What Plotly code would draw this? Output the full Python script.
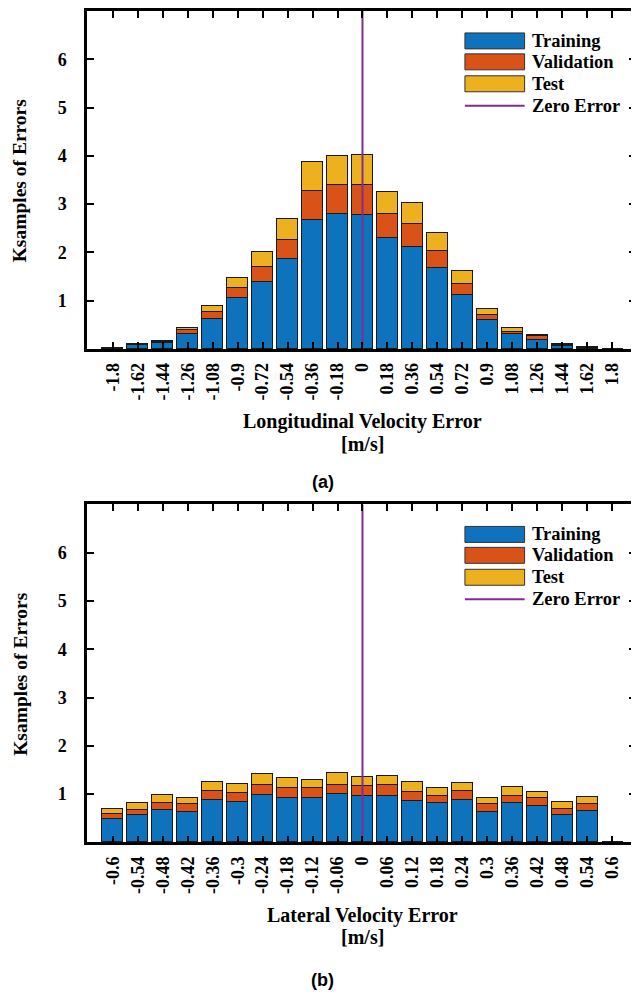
import plotly.graph_objects as go

# ---------------- data ----------------
lon_labels = ["-1.8", "-1.62", "-1.44", "-1.26", "-1.08", "-0.9", "-0.72", "-0.54", "-0.36", "-0.18",
              "0", "0.18", "0.36", "0.54", "0.72", "0.9", "1.08", "1.26", "1.44", "1.62", "1.8"]
lon_centers = [-1.8, -1.62, -1.44, -1.26, -1.08, -0.9, -0.72, -0.54, -0.36, -0.18,
               0.0, 0.18, 0.36, 0.54, 0.72, 0.9, 1.08, 1.26, 1.44, 1.62, 1.8]
lon_train = [0.02, 0.09, 0.12, 0.32, 0.62, 1.05, 1.39, 1.86, 2.68, 2.80,
             2.78, 2.30, 2.12, 1.68, 1.11, 0.59, 0.31, 0.19, 0.06, 0.03, 0.0]
lon_val = [0.005, 0.01, 0.03, 0.07, 0.15, 0.22, 0.31, 0.39, 0.60, 0.59,
           0.61, 0.50, 0.46, 0.35, 0.24, 0.11, 0.05, 0.08, 0.03, 0.01, 0.0]
lon_test = [0.005, 0.01, 0.02, 0.05, 0.13, 0.21, 0.31, 0.44, 0.59, 0.61,
            0.62, 0.46, 0.44, 0.38, 0.27, 0.13, 0.08, 0.02, 0.02, 0.01, 0.0]

lat_labels = ["-0.6", "-0.54", "-0.48", "-0.42", "-0.36", "-0.3", "-0.24", "-0.18", "-0.12", "-0.06",
              "0", "0.06", "0.12", "0.18", "0.24", "0.3", "0.36", "0.42", "0.48", "0.54", "0.6"]
lat_centers = [-0.6, -0.54, -0.48, -0.42, -0.36, -0.3, -0.24, -0.18, -0.12, -0.06,
               0.0, 0.06, 0.12, 0.18, 0.24, 0.3, 0.36, 0.42, 0.48, 0.54, 0.6]
lat_train = [0.47, 0.55, 0.67, 0.63, 0.86, 0.83, 0.98, 0.91, 0.92, 1.00,
             0.96, 0.96, 0.85, 0.80, 0.86, 0.63, 0.81, 0.74, 0.56, 0.65, 0.0]
lat_val = [0.115, 0.12, 0.14, 0.15, 0.20, 0.19, 0.19, 0.20, 0.19, 0.19,
           0.20, 0.22, 0.19, 0.16, 0.19, 0.16, 0.15, 0.17, 0.13, 0.14, 0.0]
lat_test = [0.10, 0.13, 0.17, 0.14, 0.18, 0.18, 0.23, 0.21, 0.18, 0.23,
            0.19, 0.19, 0.20, 0.15, 0.17, 0.13, 0.17, 0.13, 0.14, 0.15, 0.0]

y_ticks = [1, 2, 3, 4, 5, 6]
series_names = ["Training", "Validation", "Test"]
series_colors = ["#0E72BD", "#D95319", "#EDB120"]
zero_color = "#7E2F8E"

# ---------------- layout helpers ----------------
OFF = 8                # default page body margin
W, H = 639 - OFF, 994 - OFF
L = 87 - OFF
PW = W - L


def px_x(p):
    """window pixel x -> paper x"""
    return (p - OFF - L) / PW


def px_y(p):
    """window pixel y -> paper y"""
    return (H - (p - OFF)) / H


SERIF = "Liberation Serif"
fig = go.Figure()

panels = [
    dict(xa="x", ya="y", centers=lon_centers, labels=lon_labels,
         data=[lon_train, lon_val, lon_test], step=0.18, top=8, bottom=347,
         title="Longitudinal Velocity Error", cap="(a)", cap_y=480),
    dict(xa="x2", ya="y2", centers=lat_centers, labels=lat_labels,
         data=[lat_train, lat_val, lat_test], step=0.06, top=503, bottom=842,
         title="Lateral Velocity Error", cap="(b)", cap_y=980),
]

for i, p in enumerate(panels):
    for name, vals, col in zip(series_names, p["data"], series_colors):
        fig.add_trace(go.Bar(
            x=p["centers"], y=vals, name=name, width=p["step"] * 0.85,
            marker=dict(color=col, line=dict(color="#1a1a1a", width=1)),
            xaxis=p["xa"], yaxis=p["ya"], showlegend=False))
    fig.add_trace(go.Scatter(x=[0, 0], y=[0, 7], mode="lines",
                             line=dict(color=zero_color, width=2),
                             xaxis=p["xa"], yaxis=p["ya"], showlegend=False,
                             name="Zero Error"))

axis_common = dict(showline=True, linecolor="black", linewidth=2.5, mirror="ticks",
                   ticks="inside", ticklen=7, tickwidth=2, tickcolor="black",
                   showgrid=False, zeroline=False)

ZERO_PX = 364
for i, p in enumerate(panels):
    s = "" if i == 0 else "2"
    ppx = 25.1 / p["step"]  # pixels per data unit
    xr = [(87 - ZERO_PX) / ppx, (639 - ZERO_PX) / ppx]
    fig.update_layout(**{
        "xaxis" + s: dict(axis_common, range=xr, domain=[0, 1], anchor="y" + s,
                          tickvals=p["centers"], ticktext=p["labels"], tickangle=-90,
                          ticklabelstandoff=4,
                          tickfont=dict(family=SERIF, size=18, color="black", weight="bold")),
        "yaxis" + s: dict(axis_common, range=[0, 7], anchor="x" + s,
                          domain=[px_y(p["bottom"]), px_y(p["top"])],
                          tickvals=y_ticks, ticktext=[str(v) for v in y_ticks],
                          ticklabelstandoff=14,
                          tickfont=dict(family=SERIF, size=18, color="black", weight="bold")),
    })

annotations = []
shapes = []
for i, p in enumerate(panels):
    off = p["top"] - 8
    annotations.append(dict(text="Ksamples of Errors", x=px_x(20), y=px_y((p["top"] + p["bottom"]) / 2),
                            xref="paper", yref="paper", textangle=-90, showarrow=False,
                            xanchor="center", yanchor="middle", borderpad=0,
                            font=dict(family=SERIF, size=19.5, color="black", weight="bold")))
    annotations.append(dict(text=p["title"], x=px_x(ZERO_PX), y=px_y(p["bottom"] + 73),
                            xref="paper", yref="paper", showarrow=False,
                            xanchor="center", yanchor="middle",
                            font=dict(family=SERIF, size=20, color="black", weight="bold")))
    annotations.append(dict(text="[m/s]", x=px_x(ZERO_PX), y=px_y(p["bottom"] + 95),
                            xref="paper", yref="paper", showarrow=False,
                            xanchor="center", yanchor="middle",
                            font=dict(family=SERIF, size=20, color="black", weight="bold")))
    annotations.append(dict(text=p["cap"], x=px_x(324), y=px_y(p["cap_y"]),
                            xref="paper", yref="paper", showarrow=False,
                            xanchor="center", yanchor="middle",
                            font=dict(family="Liberation Sans", size=18, color="black", weight="bold")))
    rows = [38, 59, 81, 103]
    for name, col, ry in zip(series_names, series_colors, rows[:3]):
        shapes.append(dict(type="rect", xref="paper", yref="paper",
                           x0=px_x(467), x1=px_x(527), y0=px_y(ry + off - 8), y1=px_y(ry + off + 8),
                           fillcolor=col, line=dict(color="#333", width=1)))
    shapes.append(dict(type="line", xref="paper", yref="paper",
                       x0=px_x(467), x1=px_x(527), y0=px_y(rows[3] + off), y1=px_y(rows[3] + off),
                       line=dict(color=zero_color, width=2)))
    for name, ry in zip(series_names + ["Zero Error"], rows):
        annotations.append(dict(text=name, x=px_x(532), y=px_y(ry + off),
                                xref="paper", yref="paper", showarrow=False,
                                xanchor="left", yanchor="middle",
                                font=dict(family=SERIF, size=18.5, color="black", weight="bold")))

fig.update_layout(
    width=W, height=H, autosize=False,
    margin=dict(l=L, r=0, t=0, b=0),
    paper_bgcolor="white", plot_bgcolor="white",
    barmode="stack", bargap=0,
    showlegend=False,
    annotations=annotations, shapes=shapes,
)

fig.write_html("out.html")
